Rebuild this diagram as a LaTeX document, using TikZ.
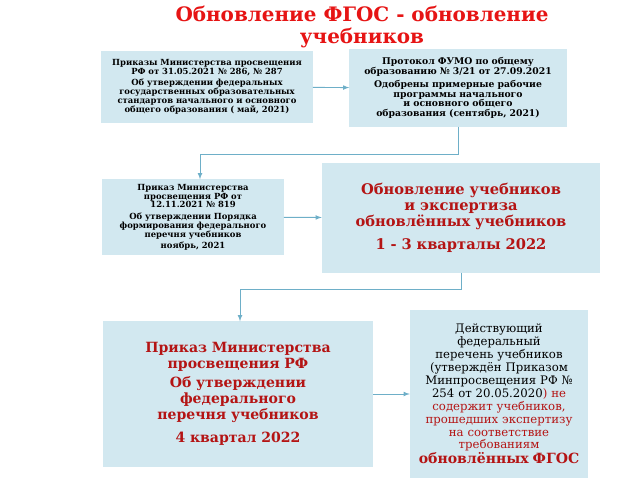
\documentclass[tikz,border=0pt]{standalone}
\usepackage{fontspec}
\setmainfont{DejaVu Serif}
\usepackage{xcolor}
\definecolor{boxblue}{RGB}{210,232,240}
\definecolor{linkblue}{RGB}{110,175,200}
\definecolor{titlered}{RGB}{230,20,20}
\definecolor{darkred}{RGB}{180,20,20}
\begin{document}
\begin{tikzpicture}[x=0.03cm, y=-0.03cm,
  box/.style={fill=boxblue, align=center, inner sep=2pt},
  link/.style={draw=linkblue, thick, -latex}]
\useasboundingbox (0, 0) rectangle (640, 480);
\node [font=\bfseries\fontsize{17}{18}\selectfont, text=titlered, align=center] (title) at (362, 27) {Обновление ФГОС - обновление\\учебников};
% upper row
\node [box, minimum width=6.27cm, minimum height=2.13cm, text width=6.2cm, font=\bfseries\fontsize{7.2}{7.6}\selectfont] (prikazy) at (207, 87)
  {Приказы Министерства просвещения РФ от 31.05.2021 № 286, № 287\\[2pt]
   Об утверждении федеральных государственных образовательных стандартов начального и основного общего образования ( май, 2021)};
\node [box, minimum width=6.51cm, minimum height=2.31cm, text width=6.2cm, font=\bfseries\fontsize{7.9}{8.2}\selectfont] (fumo) at (458, 88)
  {Протокол ФУМО по общему образованию № 3/21 от 27.09.2021\\[3pt]
   Одобрены примерные рабочие программы начального и основного общего образования (сентябрь, 2021)};
% middle row
\node [box, minimum width=5.4cm, minimum height=2.25cm, text width=5.3cm, font=\bfseries\fontsize{7.2}{7.6}\selectfont] (perechen) at (193, 217)
  {Приказ Министерства просвещения РФ от 12.11.2021 № 819\\[2pt]
   Об утверждении Порядка формирования федерального перечня учебников\\[2pt] ноябрь, 2021};
\node [box, minimum width=8.34cm, minimum height=3.27cm, text width=8cm, text=darkred, font=\bfseries\fontsize{12.5}{13.5}\selectfont] (ekspertiza) at (461, 218)
  {Обновление учебников и экспертиза обновлённых учебников\\[6pt] 1 - 3 кварталы 2022};
% lower row
\node [box, minimum width=8.1cm, minimum height=4.35cm, text width=6.6cm, text=darkred, font=\bfseries\fontsize{12}{13.5}\selectfont] (novyi) at (238, 394)
  {Приказ Министерства просвещения РФ\\[3pt] Об утверждении федерального перечня учебников\\[6pt] 4 квартал 2022};
\node [box, minimum width=5.34cm, minimum height=5.04cm, text width=4.9cm, font=\fontsize{10}{11}\selectfont] (deistv) at (499, 394)
  {Действующий федеральный перечень учебников (утверждён Приказом Минпросвещения РФ № 254 от 20.05.2020\textcolor{darkred}{) не содержит учебников, прошедших экспертизу на соответствие требованиям}\\
   \textcolor{darkred}{\bfseries\fontsize{12}{13}\selectfont обновлённых ФГОС}};
% connectors
\draw [link] (prikazy) -- (fumo);
\draw [link] (fumo.south) -- ++(0, 28) -| (perechen.north -| 200, 0);
\draw [link] (perechen) -- (ekspertiza);
\draw [link] (ekspertiza.south) -- ++(0, 17) -| (novyi.north -| 240, 0);
\draw [link] (novyi) -- (deistv);
\end{tikzpicture}
\end{document}
